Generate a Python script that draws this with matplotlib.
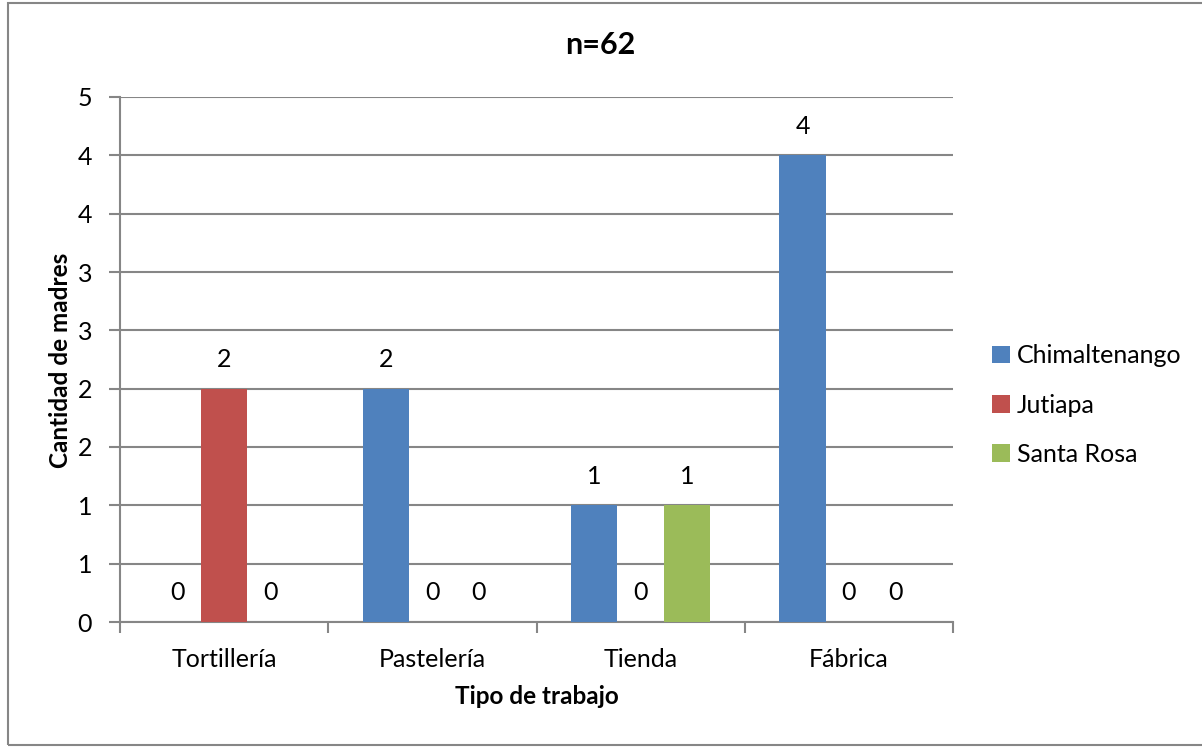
import numpy as np
import matplotlib.pyplot as plt
from matplotlib.patches import Rectangle

plt.rcParams['font.family'] = ['Lato', 'DejaVu Sans']

# Datos del grafico
tipos = ['Tortillería', 'Pastelería', 'Tienda', 'Fábrica']
chimaltenango = [0, 2, 1, 4]
jutiapa = [2, 0, 0, 0]
santa_rosa = [0, 0, 1, 0]
series = ['Chimaltenango', 'Jutiapa', 'Santa Rosa']
colores = ['#4F81BD', '#C0504D', '#9BBB59']

W, H = 1202, 748
fig = plt.figure(figsize=(W / 100, H / 100), dpi=100)
ax = fig.add_axes([120 / W, (H - 622) / H, (953 - 120) / W, (622 - 97) / H])

# Marco exterior del grafico
fig.patches.append(Rectangle((8 / W, 3 / H), 1.2, (745 - 3) / H, transform=fig.transFigure,
                             fill=False, edgecolor='#868686', linewidth=1.5))

gris = '#868686'
ancho = 1 / 4.5
x = np.arange(len(tipos)) + 0.5
for k, (valores, nombre, color) in enumerate(zip([chimaltenango, jutiapa, santa_rosa], series, colores)):
    pos = x + (k - 1) * ancho
    ax.bar(pos, valores, ancho, color=color, label=nombre, zorder=3)
    for px, v in zip(pos, valores):
        ax.annotate(str(v), (px, v), xytext=(0, 21), textcoords='offset points',
                    ha='center', va='center', fontsize=18)

ax.set_xlim(0, 4)
ax.set_ylim(0, 4.5)
yt = np.arange(0, 5, 0.5)
ax.set_yticks(yt)
ax.set_yticklabels([str(int(np.floor(v + 0.5))) for v in yt], fontsize=18)
ax.yaxis.grid(True, color=gris, linewidth=1.5, zorder=0)

ax.set_xticks(np.arange(0, 5))
ax.set_xticklabels([])
ax.set_xticks(x, minor=True)
ax.set_xticklabels(tipos, minor=True, fontsize=18)
ax.tick_params(axis='x', which='minor', length=0, pad=19)
ax.tick_params(axis='x', which='major', length=8, width=1.5, color=gris)
ax.tick_params(axis='y', length=8, width=1.5, color=gris, pad=12)

for lado in ['top', 'right']:
    ax.spines[lado].set_visible(False)
for lado in ['left', 'bottom']:
    ax.spines[lado].set_color(gris)
    ax.spines[lado].set_linewidth(1.5)

fig.text(600 / W, 1 - 45 / H, 'n=62', fontsize=22, fontweight='bold', ha='center', va='center')
fig.text(537 / W, 1 - 697 / H, 'Tipo de trabajo', fontsize=17.5, fontweight='bold',
         ha='center', va='center')
fig.text(60 / W, 1 - 360 / H, 'Cantidad de madres', fontsize=17.5, fontweight='bold',
         ha='center', va='center', rotation=90)

ax.legend(loc='center left', bbox_to_anchor=(992 / W, 1 - 405 / H), bbox_transform=fig.transFigure,
          frameon=False, fontsize=18, handlelength=0.7, handleheight=0.7, handletextpad=0.3,
          labelspacing=1.05, borderaxespad=0, borderpad=0)

fig.savefig('out.png', dpi=100)
